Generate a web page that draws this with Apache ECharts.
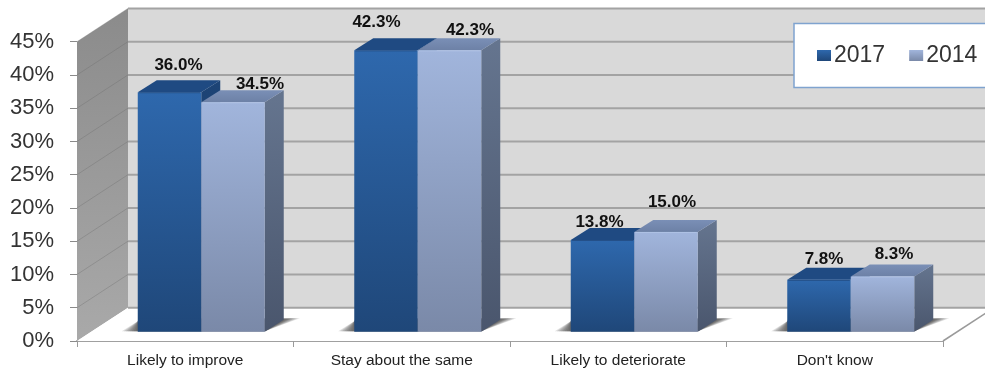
<!DOCTYPE html>
<html>
<head>
<meta charset="utf-8">
<title>Outlook survey</title>
<script src="https://cdn.jsdelivr.net/npm/echarts@6/dist/echarts.min.js"></script>
<style>html,body{margin:0;padding:0;background:#fff}#chart{width:985px;height:370px}</style>
</head>
<body>
<div id="chart"></div>
<script>
// Survey results by answer and year
const categories = ["Likely to improve", "Stay about the same", "Likely to deteriorate", "Don't know"];
const values2017 = [36.0, 42.3, 13.8, 7.8];
const values2014 = [34.5, 42.3, 15.0, 8.3];
const yTicks = [0, 5, 10, 15, 20, 25, 30, 35, 40, 45];

// Fake-3D box drawing parameters
const WALL_DX = 51, WALL_DY = 33.3;       // depth of the chart box
const BAR_DX = 19, BAR_DY = 12;           // depth of each bar
const BAR_W = 63.5;                       // width of one bar
const SHIFT_X = 16, SHIFT_Y = 9.3;        // bars stand part-way into the floor

// Data label nudges, relative to the top centre of each bar's front face
const nudge2017 = [[9, -26.5], [-9.5, -28.5], [-3, -18], [5, -21]];
const nudge2014 = [[27, -17.5], [20.5, -20.5], [6, -30], [11.5, -22.5]];

const vGrad = (top, bottom) => ({
  type: 'linear', x: 0, y: 0, x2: 0, y2: 1,
  colorStops: [{ offset: 0, color: top }, { offset: 1, color: bottom }]
});

const palette = {
  dark: { front: vGrad('#2e68ad', '#1f4779'), top: '#1f4a82', side: vGrad('#1d4476', '#173a66'), edge: '#244f86', legend: vGrad('#2e68ad', '#1f4779') },
  light: { front: vGrad('#a1b5dc', '#7a89a8'), top: vGrad('#7a8fb6', '#6d81a6'), side: vGrad('#65758f', '#4a566d'), edge: '#b0c2e4', legend: vGrad('#a1b5dc', '#7a89a8') }
};

// Chart box: left wall, back wall, floor and their gridlines
function renderBox(params, api) {
  const cs = params.coordSys;
  const left = cs.x, right = cs.x + cs.width;
  const y0 = api.coord([0, 0])[1];
  const yTop = api.coord([0, yTicks[yTicks.length - 1]])[1];
  const children = [
    { type: 'polygon', shape: { points: [[left, yTop], [left + WALL_DX, yTop - WALL_DY], [left + WALL_DX, y0 - WALL_DY], [left, y0]] },
      style: { fill: vGrad('#8b8b8b', '#a9a9a9') } },
    { type: 'rect', shape: { x: left + WALL_DX, y: yTop - WALL_DY, width: right - left, height: y0 - yTop },
      style: { fill: '#d9d9d9' } },
    { type: 'polygon', shape: { points: [[left, y0], [right, y0], [right + WALL_DX, y0 - WALL_DY], [left + WALL_DX, y0 - WALL_DY]] },
      style: { fill: '#ffffff' } }
  ];
  yTicks.forEach(function (t) {
    const y = api.coord([0, t])[1];
    if (t > 0) {
      children.push({ type: 'line', shape: { x1: left, y1: y, x2: left + WALL_DX, y2: y - WALL_DY },
        style: { stroke: 'rgba(105,105,105,0.35)', lineWidth: 1 } });
    }
    children.push({ type: 'line', shape: { x1: left + WALL_DX, y1: y - WALL_DY, x2: right + WALL_DX, y2: y - WALL_DY },
      style: { stroke: '#a3a3a3', lineWidth: 2 } });
  });
  children.push({ type: 'line', shape: { x1: right, y1: y0, x2: right + WALL_DX, y2: y0 - WALL_DY },
    style: { stroke: '#9a9a9a', lineWidth: 1.5 } });
  return { type: 'group', children: children };
}

// Soft shadow on the floor behind each pair of bars, built from stacked translucent layers
function renderShadow(params, api) {
  const c = api.coord([api.value(0), 0]);
  const x = c[0] + SHIFT_X, y = c[1] - SHIFT_Y;
  const children = [];
  for (let k = 0; k < 9; k++) {
    const g = 16 - k * 2;
    const rise = Math.min(g * 0.15, 1.5);
    children.push({
      type: 'polygon',
      shape: { points: [[x - BAR_W - g, y - 0.5], [x + BAR_W, y - 0.5], [x + BAR_W + BAR_DX + g, y - BAR_DY - rise], [x - BAR_W + g * 0.3, y - BAR_DY - rise]] },
      style: { fill: 'rgba(60,60,60,0.16)' }
    });
  }
  return { type: 'group', children: children };
}

// One bar as three faces plus its value label
function barRenderer(pal, side, nudges) {
  return function (params, api) {
    const idx = api.value(0), val = api.value(1);
    const base = api.coord([idx, 0]), topPt = api.coord([idx, val]);
    const x0 = base[0] + SHIFT_X + (side < 0 ? -BAR_W : 0);
    const x1 = x0 + BAR_W;
    const yb = base[1] - SHIFT_Y, yt = topPt[1] - SHIFT_Y;
    const n = nudges[idx];
    return {
      type: 'group',
      children: [
        { type: 'polygon', shape: { points: [[x1, yt], [x1 + BAR_DX, yt - BAR_DY], [x1 + BAR_DX, yb - BAR_DY], [x1, yb]] },
          style: { fill: pal.side } },
        { type: 'polygon', shape: { points: [[x0, yt], [x0 + BAR_DX, yt - BAR_DY], [x1 + BAR_DX, yt - BAR_DY], [x1, yt]] },
          style: { fill: pal.top } },
        { type: 'rect', shape: { x: x0, y: yt, width: BAR_W, height: yb - yt },
          style: { fill: pal.front } },
        { type: 'line', shape: { x1: x0 + 1, y1: yt + 0.5, x2: x1 - 1, y2: yt + 0.5 },
          style: { stroke: pal.edge, lineWidth: 1 } },
        { type: 'text', z2: 50,
          style: { x: x0 + BAR_W / 2 + n[0], y: yt + n[1], text: val.toFixed(1) + '%', align: 'center', verticalAlign: 'middle',
            fill: '#111', font: 'bold 17px "Liberation Sans", Arial, sans-serif' } }
      ]
    };
  };
}

const chart = echarts.init(document.getElementById('chart'), null, { renderer: 'canvas' });
chart.setOption({
  animation: false,
  backgroundColor: '#ffffff',
  textStyle: { fontFamily: '"Liberation Sans", Arial, sans-serif' },
  grid: { left: 77, right: 42, top: 41.7, bottom: 29 },
  xAxis: {
    type: 'category', data: categories,
    axisLine: { lineStyle: { color: '#a0a0a0', width: 2 } },
    axisTick: { show: true, length: 6, lineStyle: { color: '#9a9a9a' } },
    axisLabel: { color: '#222', fontSize: 15.5, margin: 12 }
  },
  yAxis: {
    type: 'value', min: 0, max: 45, interval: 5,
    axisLine: { show: false },
    axisTick: { show: true, length: 7, lineStyle: { color: '#8a8a8a', width: 1 } },
    axisLabel: { color: '#333', fontSize: 22, margin: 23, formatter: '{value}%' },
    splitLine: { show: false }
  },
  legend: {
    data: ['2017', '2014'], left: 817, top: 44, padding: 0, z: 10,
    itemWidth: 14, itemHeight: 11, itemGap: 24, icon: 'rect',
    textStyle: { color: '#333', fontSize: 23, padding: [0, 0, 0, -2] }
  },
  graphic: [{
    type: 'rect', z: 5,
    shape: { x: 794, y: 23.5, width: 230, height: 64 },
    style: { fill: '#ffffff', stroke: '#7fa3cf', lineWidth: 1.5 }
  }],
  series: [
    { type: 'custom', name: 'box', z: 1, silent: true, renderItem: renderBox, data: [[0]], encode: { x: 0 } },
    { type: 'custom', name: 'shadow', z: 2, silent: true, renderItem: renderShadow, data: categories.map((c, i) => [i]), encode: { x: 0 } },
    { type: 'custom', name: '2017', z: 3, renderItem: barRenderer(palette.dark, -1, nudge2017),
      itemStyle: { color: palette.dark.legend }, data: values2017.map((v, i) => [i, v]), encode: { x: 0, y: 1 } },
    { type: 'custom', name: '2014', z: 3, renderItem: barRenderer(palette.light, 1, nudge2014),
      itemStyle: { color: palette.light.legend }, data: values2014.map((v, i) => [i, v]), encode: { x: 0, y: 1 } }
  ]
});
</script>
</body>
</html>
